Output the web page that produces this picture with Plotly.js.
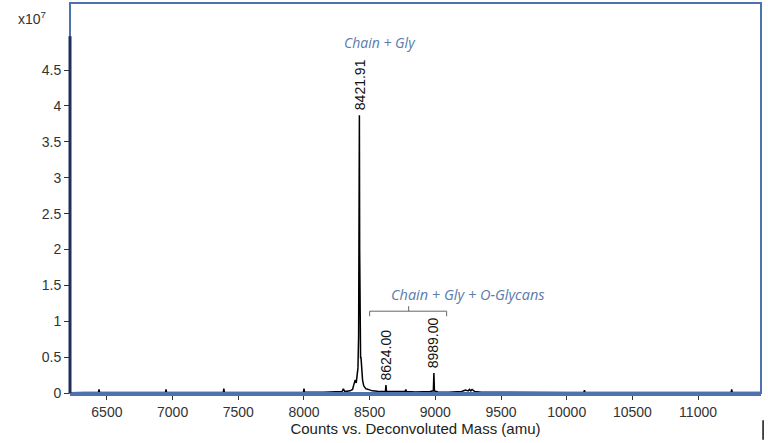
<!DOCTYPE html>
<html>
<head>
<meta charset="utf-8">
<script src="https://cdn.plot.ly/plotly-3.0.1.min.js"></script>
<style>
  html, body { margin: 0; padding: 0; background: #fff; }
  #chart { width: 768px; height: 443px; }
</style>
</head>
<body>
<div id="chart"></div>
<script>
// Deconvoluted spectrum (intensity in units of 1e7 counts)
var mass = [6219, 6300, 6436, 6440, 6444, 6600, 6800, 6946, 6950, 6954, 7100, 7300,
  7386, 7390, 7394, 7600, 7800, 7996, 8000, 8004, 8150, 8290, 8300, 8310, 8350, 8370,
  8380, 8390, 8398, 8405, 8411, 8416, 8419, 8421.91, 8424, 8427, 8431, 8434, 8437,
  8441, 8446, 8455, 8470, 8490, 8520, 8560, 8600, 8620, 8624, 8628, 8660, 8700, 8770,
  8775, 8780, 8850, 8920, 8960, 8985, 8989, 8993, 9020, 9100, 9200, 9230, 9250, 9260,
  9270, 9280, 9300, 9350, 9500, 9800, 10000, 10131, 10135, 10139, 10400, 10800, 11100,
  11252, 11256, 11260, 11479];
var intensity = [0.005, 0.008, 0.01, 0.05, 0.01, 0.008, 0.01, 0.01, 0.05, 0.01, 0.008, 0.01,
  0.01, 0.06, 0.01, 0.008, 0.01, 0.01, 0.06, 0.01, 0.01, 0.02, 0.06, 0.02, 0.03, 0.05,
  0.12, 0.18, 0.14, 0.22, 0.35, 0.8, 2.2, 3.87, 2.0, 0.7, 0.48, 0.5, 0.38,
  0.25, 0.18, 0.1, 0.06, 0.05, 0.03, 0.025, 0.02, 0.02, 0.11, 0.02, 0.02, 0.02, 0.02,
  0.05, 0.02, 0.015, 0.015, 0.02, 0.03, 0.28, 0.03, 0.015, 0.01, 0.02, 0.04, 0.03, 0.05,
  0.03, 0.05, 0.02, 0.01, 0.008, 0.008, 0.008, 0.01, 0.04, 0.01, 0.006, 0.006, 0.008,
  0.01, 0.05, 0.01, 0.006];

// labelled peaks
var peakMass = [8421.91, 8624.00, 8989.00];
var peakHeight = [3.87, 0.11, 0.28];

var yTicks = [0, 0.5, 1, 1.5, 2, 2.5, 3, 3.5, 4, 4.5];
var xTicks = [6500, 7000, 7500, 8000, 8500, 9000, 9500, 10000, 10500, 11000];

var frameBlue = '#4d72ad';
var noteBlue = '#5a7bab';
var sans = 'Liberation Sans, Arial, sans-serif';

var data = [
  {
    x: mass,
    y: intensity,
    type: 'scatter',
    mode: 'lines',
    line: { color: '#000000', width: 1.5 },
    hoverinfo: 'x+y',
  },
];

var annotations = peakMass.map(function (m, i) {
  return {
    x: m,
    y: peakHeight[i],
    xref: 'x',
    yref: 'y',
    text: m.toFixed(2),
    textangle: -90,
    showarrow: false,
    yanchor: 'bottom',
    yshift: 3,
    font: { family: sans, size: 14, color: '#111' },
  };
});

annotations.push(
  {
    x: 8576, y: 4.88, xref: 'x', yref: 'y',
    text: '<i>Chain + Gly</i>', showarrow: false,
    font: { family: 'Open Sans, sans-serif', size: 14, color: noteBlue },
  },
  {
    x: 9246, y: 1.37, xref: 'x', yref: 'y',
    text: '<i>Chain + Gly + O-Glycans</i>', showarrow: false,
    font: { family: 'Open Sans, sans-serif', size: 14.5, color: noteBlue },
  },
  {
    x: -0.055, y: 0.99, xref: 'paper', yref: 'paper',
    text: 'x10<sup>7</sup>', showarrow: false, xanchor: 'center',
    font: { family: sans, size: 14, color: '#333' },
  }
);

var layout = {
  width: 768,
  height: 443,
  margin: { l: 70, r: 7, t: 3, b: 50 },
  paper_bgcolor: '#ffffff',
  plot_bgcolor: '#ffffff',
  showlegend: false,
  font: { family: sans, size: 14, color: '#333' },
  xaxis: {
    range: [6219, 11479],
    tickvals: xTicks,
    ticktext: xTicks.map(String),
    ticks: 'outside',
    ticklen: 4,
    tickcolor: '#333',
    tickfont: { size: 14 },
    showgrid: false,
    zeroline: false,
    showline: true,
    linecolor: frameBlue,
    linewidth: 3,
    title: { text: 'Counts vs. Deconvoluted Mass (amu)', standoff: 5, font: { size: 15, color: '#222' } },
  },
  yaxis: {
    range: [0, 5.435],
    tickvals: yTicks,
    ticktext: yTicks.map(String),
    ticks: 'outside',
    ticklen: 5,
    tickcolor: '#333',
    tickfont: { size: 14 },
    showgrid: false,
    zeroline: false,
    showline: false,
  },
  shapes: [
    // plot frame
    { type: 'rect', xref: 'paper', yref: 'paper', x0: 0, x1: 1, y0: 0, y1: 1,
      line: { color: frameBlue, width: 2 } },
    // dark left axis line
    { type: 'line', xref: 'paper', yref: 'y', x0: 0, x1: 0, y0: 0, y1: 4.97,
      line: { color: '#1f2f5a', width: 3 } },
    // bracket over the O-glycan peaks
    { type: 'line', xref: 'x', yref: 'y', x0: 8500, x1: 9086, y0: 1.14, y1: 1.14,
      line: { color: '#666', width: 1 } },
    { type: 'line', xref: 'x', yref: 'y', x0: 8500, x1: 8500, y0: 1.14, y1: 1.07,
      line: { color: '#666', width: 1 } },
    { type: 'line', xref: 'x', yref: 'y', x0: 9086, x1: 9086, y0: 1.14, y1: 1.07,
      line: { color: '#666', width: 1 } },
    { type: 'line', xref: 'x', yref: 'y', x0: 8797, x1: 8797, y0: 1.14, y1: 1.21,
      line: { color: '#666', width: 1 } },
    // stray mark bottom right
    { type: 'line', xref: 'paper', yref: 'paper', x0: 1.003, x1: 1.003, y0: -0.07, y1: -0.12,
      line: { color: '#111', width: 1.5 } },
  ],
  annotations: annotations,
};

Plotly.newPlot('chart', data, layout, { displayModeBar: false });
</script>
</body>
</html>
